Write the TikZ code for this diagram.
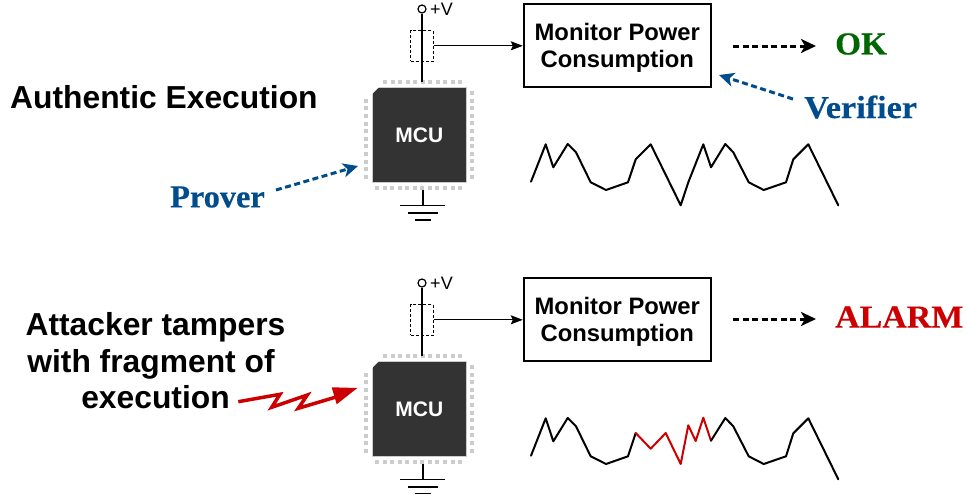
\documentclass[tikz,border=0pt]{standalone}
\usepackage{fontspec}
\setmainfont{Liberation Sans}
\newfontfamily\labelserif[BoldFeatures={FakeBold=0.4}]{Liberation Serif}
\usetikzlibrary{arrows.meta,calc}
\definecolor{chipdark}{HTML}{333333}
\definecolor{pindot}{HTML}{CCCCCC}
\definecolor{roleblue}{HTML}{004C8C}
\definecolor{okgreen}{HTML}{006600}
\definecolor{alarmred}{HTML}{CC0000}
\newcommand{\widen}[2]{\scalebox{#1}[1]{#2}}
\tikzset{
  wire/.style={draw=black,line width=1.2pt},
  monitorbox/.style={draw=black,line width=2pt,fill=white,inner sep=0pt,minimum width=187pt,minimum height=83pt,align=center,font=\fontsize{23.8}{27}\selectfont\bfseries},
  chipbox/.style={draw=#1,fill=chipdark,line width=0.8pt,inner sep=0pt,minimum width=94pt,minimum height=95pt,text=white,font=\fontsize{21}{24}\selectfont\bfseries},
  chipbox/.default=pindot,
  sensebox/.style={draw=black,densely dashed,line width=1pt,inner sep=0pt,minimum width=22.5pt,minimum height=30.5pt},
  vterm/.style={circle,draw=black,line width=1.2pt,fill=white,inner sep=0pt,minimum size=8pt},
  rolelabel/.style={inner sep=0pt,font=\fontsize{32}{36}\selectfont\labelserif\bfseries},
  headline/.style={inner sep=0pt,align=center,font=\fontsize{31.8}{36.5}\selectfont\bfseries},
  dasharrow/.style={line width=3pt,dash pattern=on 6pt off 3.5pt,-{Stealth[length=15pt,width=14pt,inset=4pt]}},
  wave/.style={line width=2pt,line join=round,line cap=round},
}
\newcommand{\circuitblock}[2]{%
\begin{scope}[shift={(0,#2)}]
  \foreach \i in {0,...,10} \fill[pindot] ({385+7.5*\i-2},80) rectangle +(4,4);
  \foreach \i in {0,...,11} \fill[pindot] ({377+7.55*\i-2},186) rectangle +(4,4);
  \foreach \i in {0,...,10} \fill[pindot] (364,{100.7+7.6*\i-2}) rectangle +(4,4);
  \foreach \i in {0,...,11} \fill[pindot] (469.7,{93+7.6*\i-2}) rectangle +(4,4);
  \node[chipbox] (#1chip) at (419.3,135) {MCU};
  \fill[white] (#1chip.north west) -- ++(7,0) -- ++(-7,7) -- cycle;
  \node[vterm] (#1v) at (422,9) {};
  \node[inner sep=0pt,font=\fontsize{18}{20}\selectfont] (#1vlabel) at (441.5,9) {+V};
  \coordinate (#1chiptop) at (422,82);
  \draw[wire] (#1v) -- (#1chiptop);
  \node[sensebox] (#1sense) at (422,45.8) {};
  \node[monitorbox] (#1mon) at (617.3,45.5) {\rule{0pt}{22.4pt}Monitor Power\\Consumption};
  \draw[wire,-{Stealth[length=12pt,width=9pt,inset=2pt]}] (#1sense.east) -- (#1sense.east -| #1mon.west);
  \coordinate (#1gndtop) at (423,190);
  \coordinate (#1gnd) at (423,205.5);
  \draw[wire] (#1gndtop) -- (#1gnd);
  \draw[wire] (400,205.5) -- (445,205.5) (408,213) -- (438,213) (415,220) -- (431,220);
\end{scope}}
\begin{document}
\begin{tikzpicture}[x=1pt,y=-1pt]
\useasboundingbox (0,0) rectangle (967,493);
\circuitblock{a}{0}
\circuitblock{b}{274}
% upper trace
\draw[wave] (531,181.7) -- (545.7,144.3) -- (553.3,167.3) -- (567.7,144) -- (576,152.3) -- (590.7,182.3) -- (606,190) -- (628,182.3) -- (635.7,159.3) -- (650.7,144.3) -- (680.7,205.3) -- (688.3,182.3) -- (703.3,144.3) -- (711,167.3) -- (725.3,144) -- (733.3,152.3) -- (748.7,182.3) -- (763.7,190) -- (786,182.3) -- (793.3,159.3) -- (808.3,144.3) -- (838.3,205.3);
% lower trace
\draw[wave] (531,455.7) -- (545.7,418.3) -- (553.3,441.3) -- (567.7,418) -- (576,426.3) -- (590.7,456.3) -- (606,464) -- (628,456.3) -- (635.7,433);
\draw[wave,alarmred] (635.7,433) -- (650.7,448.7) -- (665.7,433) -- (680.7,464) -- (688.3,425.3) -- (695.7,441) -- (703.3,417.7) -- (711,440.7);
\draw[wave] (711,440.7) -- (725.3,418) -- (733.3,426.3) -- (748.7,456.3) -- (763.7,464) -- (786,456.3) -- (793.3,433.3) -- (808.3,418.3) -- (838.3,479.3);
% labels
\node[headline,anchor=west] (title) at (10,97) {Authentic Execution};
\node[headline] (attack) at (155.5,361) {Attacker tampers\\\hbox{with fragment of\kern9pt}\\execution};
\node[rolelabel,text=okgreen,anchor=west] (ok) at (835,44) {\widen{1.04}{OK}};
\node[rolelabel,text=roleblue,anchor=west] (verifier) at (804,107) {\widen{1.07}{Verifier}};
\node[rolelabel,text=roleblue,anchor=west] (prover) at (170,197) {\widen{1.01}{Prover}};
\node[rolelabel,text=alarmred,anchor=west] (alarm) at (835,317) {\widen{1.06}{ALARM}};
% result arrows
\coordinate (as) at (733,46); \coordinate (ae) at (816,46);
\coordinate (bs) at (733,319); \coordinate (be) at (816,319);
\draw[dasharrow] (as) -- (ae);
\draw[dasharrow] (bs) -- (be);
\coordinate (vs) at (793,99); \coordinate (ve) at (719,75);
\draw[dasharrow,roleblue] (vs) -- (ve);
\coordinate (ps) at (276,190); \coordinate (pe) at (358,166);
\draw[dasharrow,roleblue] (ps) -- (pe);
% attack bolt
\coordinate (z0) at (238.3,401.7); \coordinate (z5) at (335,397.3);
\draw[alarmred,line width=3.5pt,line join=miter] (z0) -- (280,394.3) -- (271.7,407.3) -- (307.3,395) -- (298.3,408.3) -- (z5);
\fill[alarmred] (357.3,388) -- (331.7,387.3) -- (336.7,404.3) -- cycle;
\end{tikzpicture}
\end{document}
